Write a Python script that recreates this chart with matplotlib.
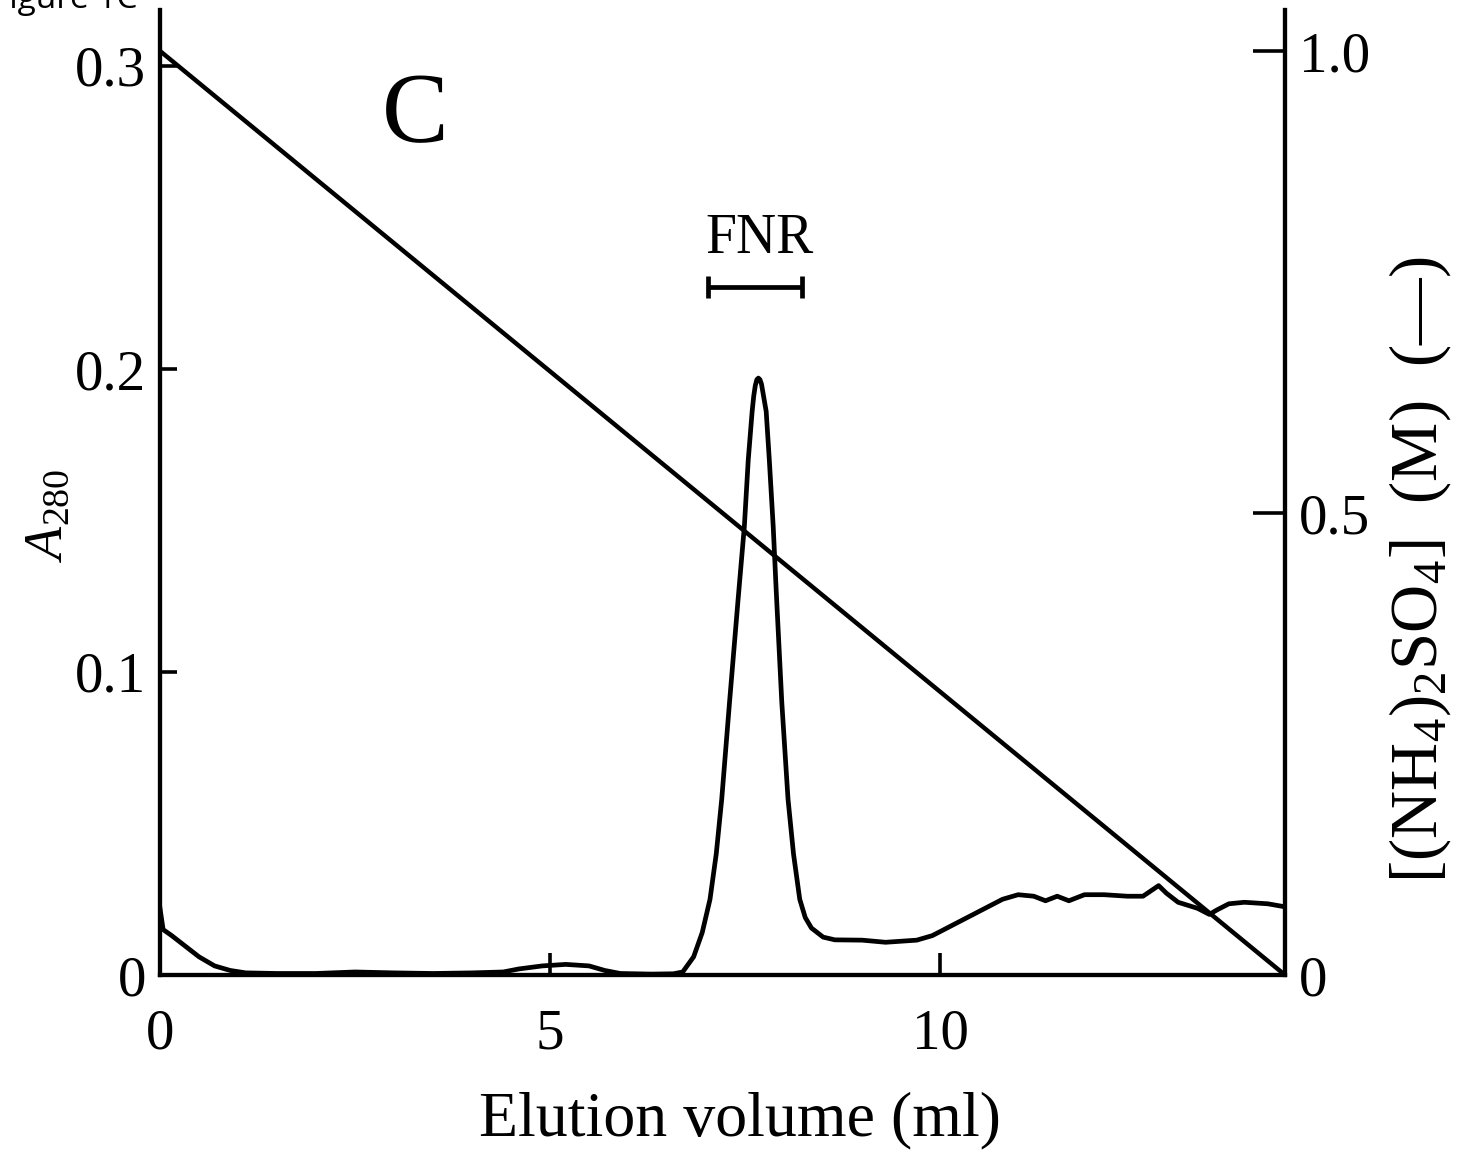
import matplotlib
matplotlib.use("Agg")
import matplotlib.pyplot as plt

plt.rcParams['font.family'] = ['Liberation Serif', 'DejaVu Serif']
plt.rcParams['mathtext.fontset'] = 'custom'
plt.rcParams['mathtext.rm'] = 'Liberation Serif'
plt.rcParams['mathtext.it'] = 'Liberation Serif:italic'

# A280 trace (ml, absorbance)
elution_ml = [0.00, 0.04, 0.15, 0.30, 0.50, 0.70, 0.90, 1.10, 1.50, 2.00, 2.50, 3.00,
              3.50, 4.00, 4.40, 4.60, 4.90, 5.20, 5.50, 5.70, 5.90, 6.30, 6.58, 6.70,
              6.84, 6.95, 7.05, 7.13, 7.20, 7.30, 7.41, 7.49, 7.54, 7.59, 7.61, 7.63,
              7.65, 7.67, 7.69, 7.71, 7.73, 7.77, 7.81, 7.86, 7.90, 7.97, 8.05, 8.12,
              8.20, 8.27, 8.35, 8.50, 8.65, 9.00, 9.30, 9.70, 9.90, 10.20, 10.50, 10.80,
              11.00, 11.20, 11.35, 11.50, 11.65, 11.85, 12.10, 12.40, 12.60, 12.80,
              12.90, 13.05, 13.30, 13.45, 13.55, 13.70, 13.90, 14.20, 14.42]
a280 = [0.022, 0.015, 0.013, 0.010, 0.006, 0.003, 0.0015, 0.0007, 0.0005, 0.0005,
        0.001, 0.0007, 0.0005, 0.0007, 0.001, 0.002, 0.003, 0.0035, 0.003, 0.0015,
        0.0005, 0.0003, 0.0004, 0.001, 0.006, 0.014, 0.025, 0.040, 0.058, 0.090,
        0.124, 0.148, 0.170, 0.186, 0.191, 0.1945, 0.1965, 0.197, 0.1965, 0.195,
        0.192, 0.186, 0.170, 0.148, 0.126, 0.090, 0.058, 0.040, 0.025, 0.019, 0.0155,
        0.0125, 0.0116, 0.0115, 0.0108, 0.0115, 0.013, 0.017, 0.021, 0.025, 0.0265,
        0.026, 0.0245, 0.026, 0.0245, 0.0265, 0.0265, 0.026, 0.026, 0.0295, 0.027,
        0.024, 0.022, 0.020, 0.0215, 0.0235, 0.024, 0.0235, 0.0225]

# ammonium sulfate gradient (M)
grad_ml = [0.0, 14.42]
grad_conc = [1.0, 0.0]

fnr_range = [7.03, 8.23]
fnr_level = 0.227

fig = plt.figure(figsize=(14.59, 11.56), dpi=100)
ax = fig.add_axes([160 / 1459, 181 / 1156, 1125 / 1459, 965 / 1156])
ax2 = ax.twinx()

ax.plot(elution_ml, a280, color='black', lw=3.4, solid_joinstyle='round')
ax2.plot(grad_ml, grad_conc, color='black', lw=3.2)

ax.errorbar(sum(fnr_range) / 2, fnr_level, xerr=(fnr_range[1] - fnr_range[0]) / 2,
            color='black', lw=3.4, capsize=8, capthick=3.4)
ax.text(sum(fnr_range) / 2 + 0.05, 0.243, 'FNR', fontsize=40, ha='center', va='center')
ax.text(3.27, 0.283, 'C', fontsize=72, ha='center', va='center')

ax.set_xlim(0, 14.42)
ax.set_ylim(0, 965 / 3030)
ax2.set_ylim(0, 965 / 924)

ax.set_xticks([0, 5, 10])
ax.set_xticklabels(['0', '5', '10'])
ax.set_yticks([0, 0.1, 0.2, 0.3])
ax.set_yticklabels(['0', '0.1', '0.2', '0.3'])
ax2.set_yticks([0, 0.5, 1.0])
ax2.set_yticklabels(['0', '0.5', '1.0'])

for a in (ax, ax2):
    a.spines['top'].set_visible(False)
    for s in a.spines.values():
        s.set_linewidth(3.0)
ax.tick_params(axis='x', direction='in', length=16, width=2.6, pad=24, labelsize=41)
ax.tick_params(axis='y', direction='in', length=12, width=2.6, pad=10, labelsize=41)
ax2.tick_params(axis='y', direction='in', length=23, width=2.6, pad=10, labelsize=41)

fig.text(740 / 1459, 1 - 1120 / 1156, 'Elution volume (ml)', fontsize=46,
         ha='center', va='center')
fig.text(48 / 1459, 1 - 515 / 1156, r'$\mathit{A}_{\mathrm{280}}$', fontsize=39,
         rotation=90, ha='center', va='center')
fig.text(1420 / 1459, 1 - 570 / 1156, r'[(NH$_4$)$_2$SO$_4$]  (M)  (—)', fontsize=48,
         rotation=90, ha='center', va='center')
fig.text(-8 / 1459, 1 - 8 / 1156, 'Figure 1C', fontsize=24, family='Open Sans',
         ha='left', va='baseline')

fig.savefig('out.png', dpi=100)
